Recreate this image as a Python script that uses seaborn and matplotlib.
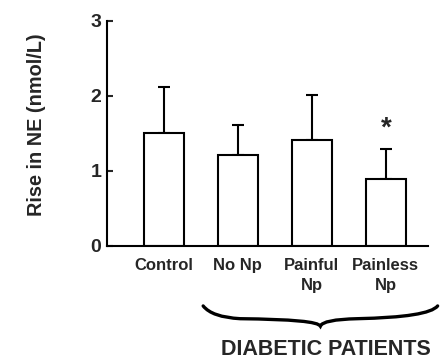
import matplotlib
matplotlib.use("Agg")
import matplotlib.pyplot as plt
import seaborn as sns
import pandas as pd
import numpy as np
from matplotlib.path import Path
from matplotlib.patches import PathPatch

categories = ["Control", "No Np", "Painful\nNp", "Painless\nNp"]
means = [1.51, 1.21, 1.41, 0.89]
sem = [0.61, 0.40, 0.60, 0.40]
yticks = [0, 1, 2, 3]
group_label = "DIABETIC PATIENTS"
ylabel = "Rise in NE (nmol/L)"

sns.set_theme(style="white")
plt.rcParams['font.family'] = ['Liberation Sans', 'DejaVu Sans']

df = pd.DataFrame({"group": categories, "value": means})

fig = plt.figure(figsize=(4.44, 3.59), dpi=100)
ax = fig.add_axes([0.241, 0.315, 0.723, 0.627])

sns.barplot(data=df, x="group", y="value", ax=ax, color="white",
            edgecolor="black", linewidth=1.5, width=0.54, errorbar=None,
            saturation=1)
ax.errorbar(np.arange(len(means)), means, yerr=[np.zeros(len(sem)), sem],
            fmt="none", ecolor="black", elinewidth=1.5, capsize=4.5,
            capthick=1.5, zorder=0)

ax.set_xlim(-0.77, 3.57)
ax.set_ylim(0, 3)
ax.set_yticks(yticks)
ax.set_yticklabels([str(t) for t in yticks], fontsize=14, fontweight="bold")
ax.tick_params(axis="y", direction="in", length=4, width=1.5, pad=4, left=True)
ax.tick_params(axis="x", length=0, pad=9)
for lbl in ax.get_xticklabels():
    lbl.set_fontsize(12)
    lbl.set_fontweight("bold")
    lbl.set_linespacing(1.35)
ax.set_xlabel("")
ax.set_ylabel(ylabel, fontsize=14.3, fontweight="bold")
ax.yaxis.set_label_coords(-0.19, 0.54)

for s in ["top", "right"]:
    ax.spines[s].set_visible(False)
for s in ["left", "bottom"]:
    ax.spines[s].set_color("black")
    ax.spines[s].set_linewidth(1.5)

# significance marker
ax.text(3, means[3] + sem[3] + 0.27, "*", ha="center", va="center",
        fontsize=20, fontweight="bold")

# brace under diabetic groups
x0, x1 = 0.53, 3.70
xm = (x0 + x1) / 2
yt, ym, yb = -0.80, -0.97, -1.07
verts = [(x0, yt), (x0 + 0.12, ym + 0.02), (x0 + 0.5, ym),
         (xm - 0.03, ym - 0.01), (xm, yb),
         (xm + 0.03, ym - 0.01), (xm + 0.5, ym),
         (x1 - 0.12, ym + 0.02), (x1, yt)]
codes = [Path.MOVETO, Path.CURVE3, Path.CURVE3,
         Path.CURVE3, Path.CURVE3,
         Path.CURVE3, Path.CURVE3,
         Path.CURVE3, Path.CURVE3]
brace = PathPatch(Path(verts, codes), facecolor="none", edgecolor="black",
                  linewidth=2.4, clip_on=False, capstyle="round")
ax.add_patch(brace)

ax.text(xm + 0.08, -1.38, group_label, ha="center", va="center",
        fontsize=15.5, fontweight="bold", clip_on=False)

fig.savefig("out.png", dpi=100)
